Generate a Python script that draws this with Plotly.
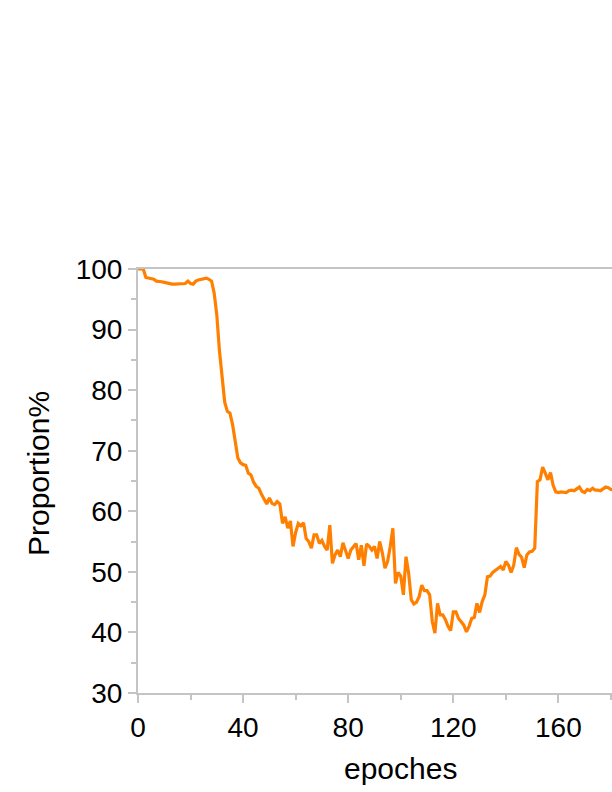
import plotly.graph_objects as go

epochs = list(range(0, 182))
proportion = [
    100.0, 100.0, 100.0, 98.6, 98.5, 98.5, 98.3, 98.0, 98.0, 97.9,
    97.8, 97.7, 97.5, 97.5, 97.5, 97.5, 97.5, 97.5, 97.6, 98.0,
    97.6, 97.5, 98.0, 98.2, 98.3, 98.4, 98.5, 98.3, 98.0, 96.0,
    92.4, 86.5, 81.5, 78.0, 76.5, 76.2, 74.3, 71.5, 68.8, 68.0,
    67.7, 67.6, 66.3, 66.0, 64.8, 64.1, 63.8, 62.8, 61.9, 61.2,
    62.2, 61.3, 61.1, 61.6, 61.2, 58.0, 59.1, 57.2, 58.4, 54.2,
    56.5, 58.0, 57.6, 58.1, 55.5, 55.0, 53.9, 56.1, 56.1, 54.7,
    55.2, 54.2, 53.6, 57.7, 51.4, 52.8, 53.6, 52.5, 54.8, 53.3,
    52.2, 53.6, 54.2, 54.7, 52.0, 54.4, 51.0, 54.6, 54.2, 53.6,
    54.2, 52.2, 55.0, 53.1, 50.6, 51.7, 54.2, 57.2, 48.1, 49.9,
    49.3, 46.2, 52.5, 49.8, 45.4, 44.7, 45.0, 45.9, 47.8, 46.9,
    46.9, 46.2, 41.8, 39.9, 44.8, 42.9, 42.9, 42.1, 41.0, 40.3,
    43.4, 43.4, 42.3, 41.7, 41.2, 40.1, 41.0, 42.3, 42.5, 44.8,
    43.3, 45.1, 46.2, 49.2, 49.3, 49.9, 50.2, 50.6, 50.9, 50.3,
    51.7, 51.1, 49.9, 51.1, 54.0, 52.9, 52.4, 50.7, 52.8, 53.3,
    53.4, 53.9, 64.9, 65.2, 67.3, 66.3, 65.2, 66.4, 64.3, 63.2,
    63.1, 63.2, 63.2, 63.1, 63.4, 63.5, 63.4, 63.7, 64.0, 63.3,
    63.1, 63.6, 63.4, 63.8, 63.5, 63.5, 63.4, 63.7, 64.0, 63.9,
    63.6, 63.5,
]
x_ticks = [0, 40, 80, 120, 160, 200]
y_ticks = [30, 40, 50, 60, 70, 80, 90, 100]
x_title = "epoches"
y_title = "Proportion%"

axis_gray = "#c4c4c4"
font_family = "Liberation Sans, Arial, sans-serif"

fig = go.Figure()
fig.add_trace(go.Scatter(
    x=epochs, y=proportion, mode="lines",
    line=dict(color="#ff8000", width=3.2),
    showlegend=False, hoverinfo="skip",
))

fig.update_layout(
    width=612, height=792,
    margin=dict(l=138, r=0, t=269, b=99),
    paper_bgcolor="white", plot_bgcolor="white",
    font=dict(family=font_family, size=28, color="black"),
    xaxis=dict(
        range=[0, 180.4], tickvals=x_ticks, ticks="outside", ticklen=8,
        tickwidth=2, tickcolor=axis_gray, showline=True, linecolor=axis_gray,
        linewidth=2, mirror=True, showgrid=False, zeroline=False,
        minor=dict(dtick=20, ticks="outside", ticklen=5, tickwidth=2, tickcolor=axis_gray, showgrid=False),
        tickfont=dict(size=28),
    ),
    yaxis=dict(
        range=[30, 100], tickvals=y_ticks, ticks="outside", ticklen=8,
        tickwidth=2, tickcolor=axis_gray, showline=True, linecolor=axis_gray,
        linewidth=2, showgrid=False, zeroline=False,
        minor=dict(dtick=5, ticks="outside", ticklen=5, tickwidth=2, tickcolor=axis_gray, showgrid=False),
        tickfont=dict(size=28),
    ),
    annotations=[
        dict(text=x_title, xref="paper", yref="paper", x=(400 - 138) / 474, y=-75 / 424,
             xanchor="center", yanchor="middle", showarrow=False, font=dict(size=30)),
        dict(text=y_title, xref="paper", yref="paper", x=-100 / 474, y=(693 - 474) / 424,
             xanchor="center", yanchor="middle", textangle=-90, showarrow=False, font=dict(size=30)),
    ],
)

fig.write_html(
    "out.html",
    config={"displayModeBar": False},
    post_script="document.body.style.margin='0';document.body.style.overflow='hidden';document.documentElement.style.overflow='hidden';",
)
